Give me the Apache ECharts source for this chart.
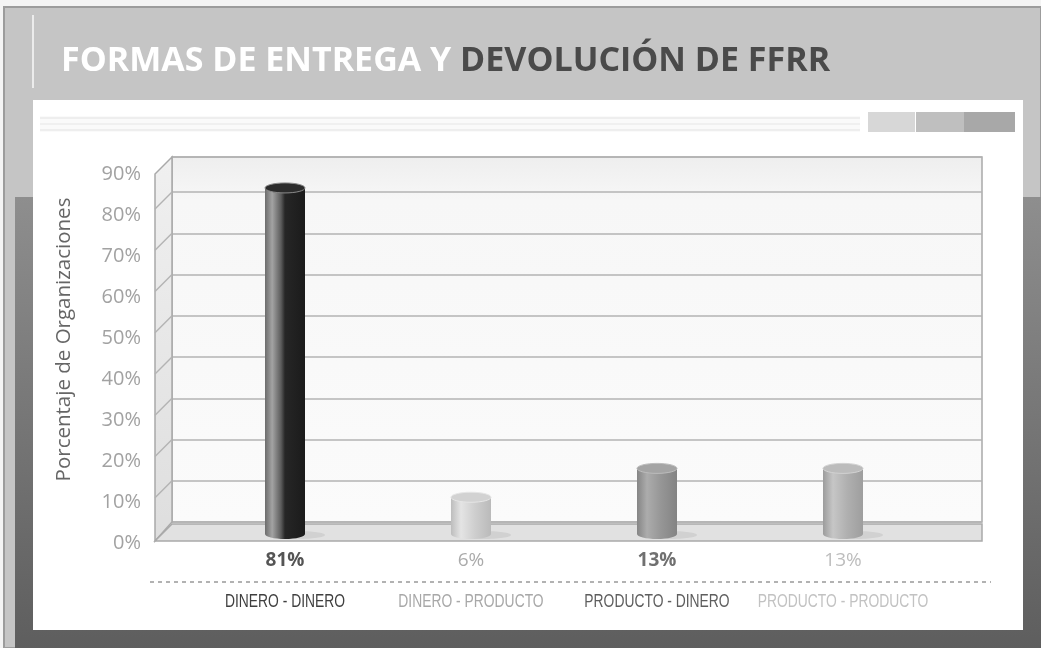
<!DOCTYPE html>
<html>
<head>
<meta charset="utf-8">
<script src="https://cdn.jsdelivr.net/npm/echarts@6/dist/echarts.min.js"></script>
<style>
  html, body { margin: 0; padding: 0; background: #fff; }
  #chart { width: 1041px; height: 648px; }
</style>
</head>
<body>
<div id="chart"></div>
<script>
  // datos del gráfico
  const categorias = ['DINERO - DINERO', 'DINERO - PRODUCTO', 'PRODUCTO - DINERO', 'PRODUCTO - PRODUCTO']
  const valores = [81, 6, 13, 13]

  // colores por categoría (etiquetas y cilindros)
  const colorPct = ['#555555', '#ababab', '#707070', '#bdbdbd']
  const pesoPct = ['bold', 'normal', 'bold', 'normal']
  const colorCat = ['#3f3f3f', '#a8a8a8', '#5e5e5e', '#c2c2c2']
  const cilindros = [
    { body: [[0, '#6c6c6c'], [0.18, '#a3a3a3'], [0.4, '#5c5c5c'], [0.5, '#262626'], [1, '#1b1b1b']], cap: '#2c2c2c', rim: '#8a8a8a' },
    { body: [[0, '#bdbdbd'], [0.25, '#e4e4e4'], [0.6, '#cecece'], [1, '#bababa']], cap: '#d2d2d2', rim: '#e6e6e6' },
    { body: [[0, '#858585'], [0.25, '#acacac'], [0.6, '#969696'], [1, '#838383']], cap: '#a4a4a4', rim: '#bcbcbc' },
    { body: [[0, '#9c9c9c'], [0.25, '#c6c6c6'], [0.6, '#b0b0b0'], [1, '#9e9e9e']], cap: '#bcbcbc', rim: '#d2d2d2' }
  ]

  const grad = (stops, h) => new echarts.graphic.LinearGradient(0, 0, h ? 1 : 0, h ? 0 : 1,
    stops.map(s => ({ offset: s[0], color: s[1] })))

  const FONT = 'Open Sans'

  let pctRich = {}
  valores.forEach((v, i) => {
    pctRich['p' + i] = { color: colorPct[i], fontSize: 19, fontWeight: pesoPct[i], fontFamily: FONT }
  })

  // marco y cabecera
  let marco = [
    { type: 'rect', z: -20, shape: { x: 0, y: 0, width: 1041, height: 648 }, style: { fill: '#f4f4f4' } },
    { type: 'rect', z: -19, shape: { x: 4, y: 7, width: 1037, height: 641 }, style: { fill: '#c5c5c5', stroke: '#9c9c9c', lineWidth: 2 } },
    { type: 'rect', z: -18, shape: { x: 15, y: 197, width: 1026, height: 451 }, style: { fill: grad([[0, '#8e8e8e'], [1, '#5e5e5e']]) } },
    { type: 'rect', z: -17, shape: { x: 33, y: 100, width: 990, height: 530 }, style: { fill: '#ffffff' } },
    { type: 'line', z: -16, shape: { x1: 33, y1: 15, x2: 33, y2: 88 }, style: { stroke: '#ececec', lineWidth: 2 } },
    { type: 'rect', z: -16, shape: { x: 40, y: 116, width: 820, height: 16 }, style: { fill: '#fafafa' } },
    { type: 'line', z: -15, shape: { x1: 40, y1: 118, x2: 860, y2: 118 }, style: { stroke: '#e2e2e2', lineWidth: 1 } },
    { type: 'line', z: -15, shape: { x1: 40, y1: 124, x2: 860, y2: 124 }, style: { stroke: '#e6e6e6', lineWidth: 1 } },
    { type: 'line', z: -15, shape: { x1: 40, y1: 130, x2: 860, y2: 130 }, style: { stroke: '#e2e2e2', lineWidth: 1 } },
    { type: 'rect', z: -15, shape: { x: 868, y: 112, width: 47, height: 20 }, style: { fill: '#d7d7d7' } },
    { type: 'rect', z: -15, shape: { x: 916, y: 112, width: 48, height: 20 }, style: { fill: '#bfbfbf' } },
    { type: 'rect', z: -15, shape: { x: 964, y: 112, width: 51, height: 20 }, style: { fill: '#a8a8a8' } },
    { type: 'line', z: 5, shape: { x1: 150, y1: 582, x2: 991, y2: 582 }, style: { stroke: '#999999', lineWidth: 1.5, lineDash: [4, 4] } }
  ]

  let myChart = echarts.init(document.getElementById('chart'))

  let option = {
    animation: false,
    title: {
      text: '{a|FORMAS DE ENTREGA Y }{b|DEVOLUCIÓN DE FFRR}',
      left: 56,
      top: 39,
      textStyle: {
        rich: {
          a: { color: '#ffffff', fontSize: 34, fontWeight: 'bold', fontFamily: FONT },
          b: { color: '#4a4a4a', fontSize: 34, fontWeight: 'bold', fontFamily: FONT }
        }
      }
    },
    grid: [
      // pared del fondo
      { left: 172, right: 59, top: 157, bottom: 126, show: true, borderColor: '#a9a9a9', borderWidth: 1.5,
        backgroundColor: grad([[0, '#eeeeee'], [0.12, '#f7f7f7'], [1, '#fbfbfb']]) },
      // cilindros
      { left: 192, right: 105, top: 157, bottom: 126 },
      // eje frontal (etiquetas)
      { left: 155, right: 76, top: 174, bottom: 105 }
    ],
    xAxis: [
      { type: 'category', gridIndex: 0, data: categorias, show: false },
      { type: 'category', gridIndex: 1, data: categorias,
        axisLine: { show: false }, axisTick: { show: false },
        axisLabel: { interval: 0, margin: 29, formatter: (v, i) => `{p${i}|${valores[i]}%}`, rich: pctRich } },
      { type: 'category', gridIndex: 2, data: categorias, show: false }
    ],
    yAxis: [
      { type: 'value', gridIndex: 0, min: 0, max: 88.5, interval: 10,
        name: 'Porcentaje de Organizaciones', nameLocation: 'middle', nameGap: 97,
        nameTextStyle: { color: '#666666', fontSize: 20.5, fontFamily: FONT },
        axisLine: { show: false }, axisTick: { show: false }, axisLabel: { show: false },
        splitLine: { lineStyle: { color: '#b3b3b3', width: 1.5 } } },
      { type: 'value', gridIndex: 1, min: 0, max: 88.5, interval: 10, show: false, splitLine: { show: false } },
      { type: 'value', gridIndex: 2, min: 0, max: 90, interval: 10,
        axisLine: { show: false }, axisTick: { show: false }, splitLine: { show: false },
        axisLabel: { formatter: '{value}%', color: '#a2a2a2', fontSize: 20, fontFamily: FONT, margin: 14 } }
    ],
    graphic: marco,
    series: [{
      type: 'custom',
      xAxisIndex: 1,
      yAxisIndex: 1,
      z: 4,
      data: valores.map((v, i) => [i, v]),
      renderItem(params, api) {
        let i = api.value(0)
        let top = api.coord([i, api.value(1)])
        let base = api.coord([i, 0])
        let w = 40, ry = 5
        let cx = top[0], x = cx - w / 2
        let yb = base[1] + 12
        let c = cilindros[i]
        return {
          type: 'group',
          children: [
            { type: 'ellipse', shape: { cx: cx + 12, cy: yb + 1, rx: w / 2 + 8, ry: 4 }, style: { fill: 'rgba(0,0,0,0.07)' } },
            { type: 'rect', shape: { x: x, y: top[1], width: w, height: yb - top[1] }, style: { fill: grad(c.body, true) } },
            { type: 'ellipse', shape: { cx: cx, cy: yb, rx: w / 2, ry: ry }, style: { fill: grad(c.body, true) } },
            { type: 'ellipse', shape: { cx: cx, cy: top[1], rx: w / 2, ry: ry }, style: { fill: c.cap, stroke: c.rim, lineWidth: 1 } }
          ]
        }
      }
    }]
  }
  myChart.setOption(option)

  // pared lateral y suelo en 3D, a partir de las escalas de los ejes
  const prof = 17
  let y0 = myChart.convertToPixel({ yAxisIndex: 0 }, 0)
  let yTop = myChart.convertToPixel({ yAxisIndex: 0 }, 88.5)
  let xL = 172, xR = 982
  let extra = [
    { type: 'polygon', z: 1, shape: { points: [[xL - prof, y0 + prof + 2], [xL - prof, yTop + prof], [xL, yTop], [xL, y0]] },
      style: { fill: grad([[0, '#f0f0f0'], [1, '#dedede']]), stroke: '#a9a9a9', lineWidth: 1.5 } },
    { type: 'polygon', z: 1, shape: { points: [[xL - prof, y0 + prof + 2], [xL, y0 + 2], [xR, y0 + 2], [xR, y0 + prof + 2]] },
      style: { fill: '#e1e1e1', stroke: '#a9a9a9', lineWidth: 1.5 } }
  ]
  for (let v = 10; v <= 80; v += 10) {
    let y = myChart.convertToPixel({ yAxisIndex: 0 }, v)
    extra.push({ type: 'line', z: 1, shape: { x1: xL, y1: y, x2: xL - prof, y2: y + prof }, style: { stroke: '#b3b3b3', lineWidth: 1.5 } })
  }
  // nombres de categoría bajo la línea de puntos, en letra estrecha
  categorias.forEach((c, i) => {
    let x = myChart.convertToPixel({ xAxisIndex: 1 }, c)
    extra.push({ type: 'text', z: 5, x: x, y: 602, scaleX: 0.77,
      style: { text: c, fill: colorCat[i], fontSize: 18, fontFamily: '"Liberation Sans", Arial, sans-serif',
        align: 'center', verticalAlign: 'middle' } })
  })
  myChart.setOption({ graphic: marco.concat(extra) })
</script>
</body>
</html>
